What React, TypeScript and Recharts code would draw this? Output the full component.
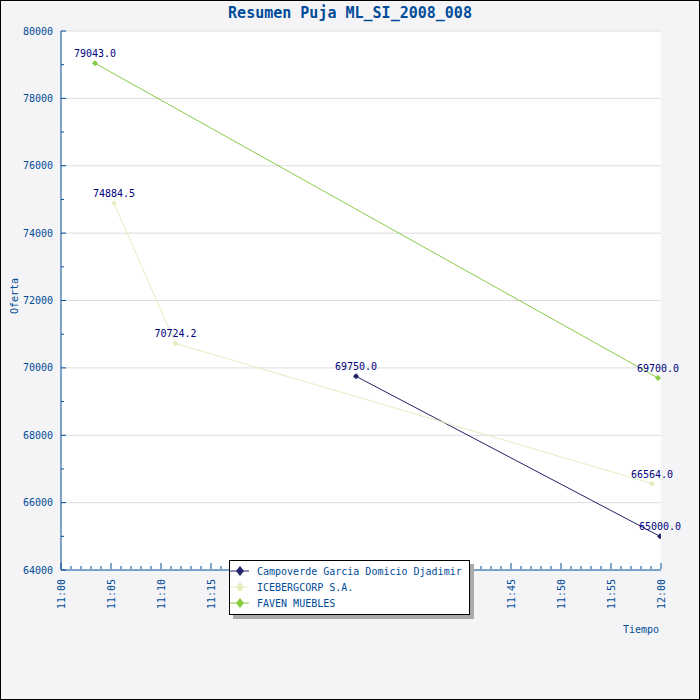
import { LineChart, Line, XAxis, YAxis, CartesianGrid, Legend, LabelList, Customized } from 'recharts'

// Pujas por oferente: minutos desde las 11:00 y oferta
const campoverdeMinutes = [29.5, 59.9]
const campoverdeBids = [69750.0, 65000.0]
const icebergMinutes = [5.3, 11.45, 59.1]
const icebergBids = [74884.5, 70724.2, 66564.0]
const favenMinutes = [3.4, 59.7]
const favenBids = [79043.0, 69700.0]

const seriesNames = ['Campoverde Garcia Domicio Djadimir', 'ICEBERGCORP S.A.', 'FAVEN MUEBLES']
const seriesColors = ['#222266', '#e4edbf', '#88cc44']

const yTicks = [64000, 65000, 66000, 67000, 68000, 69000, 70000, 71000, 72000, 73000, 74000, 75000, 76000, 77000, 78000, 79000, 80000]
const yGridValues = [66000, 68000, 70000, 72000, 74000, 76000, 78000, 80000]
const xTicks = Array.from({ length: 61 }, (_, i) => i)

const AXIS = '#004c99'
const FONT = '"DejaVu Sans Mono", monospace'
const TICK_MARGIN = 8

const toRows = (minutes: number[], bids: number[]) => minutes.map((t, i) => ({ t, bid: bids[i] }))
const seriesData = [
  toRows(campoverdeMinutes, campoverdeBids),
  toRows(icebergMinutes, icebergBids),
  toRows(favenMinutes, favenBids),
]

const timeLabel = (m: number) => (m >= 60 ? '12:00' : `11:${String(m).padStart(2, '0')}`)

function YTick(props: any) {
  const { x, y, payload } = props
  const ax = x + TICK_MARGIN
  const major = payload.value % 2000 === 0
  return (
    <g>
      <line x1={ax} x2={ax + (major ? 5 : 3)} y1={y} y2={y} stroke={AXIS} />
      {major && (
        <text x={x} y={y} dy="0.35em" textAnchor="end" fill={AXIS} fontSize={10} fontFamily={FONT}>
          {payload.value}
        </text>
      )}
    </g>
  )
}

function XTick(props: any) {
  const { x, y, payload } = props
  const ay = y - TICK_MARGIN - 1
  const major = payload.value % 5 === 0
  return (
    <g>
      <line x1={x} x2={x} y1={ay} y2={ay - (major ? 6 : 3)} stroke={AXIS} />
      {major && (
        <text
          x={x}
          y={ay + 10}
          dy="0.35em"
          textAnchor="end"
          transform={`rotate(-90, ${x}, ${ay + 10})`}
          fill={AXIS}
          fontSize={10}
          fontFamily={FONT}
        >
          {timeLabel(payload.value)}
        </text>
      )}
    </g>
  )
}

const diamond = (color: string) => (p: any) => {
  const { cx, cy } = p
  if (cx == null || cy == null) return <g key={p.index} />
  return (
    <polygon
      key={p.index}
      points={`${cx},${cy - 3} ${cx + 3},${cy} ${cx},${cy + 3} ${cx - 3},${cy}`}
      fill={color}
    />
  )
}

function LegendBox() {
  return (
    <div
      style={{
        width: 239,
        height: 51,
        border: '1px solid #000',
        background: '#fff',
        boxShadow: '4px 4px 0 #aaaaaa',
        paddingTop: 2,
        fontFamily: FONT,
        fontSize: 10,
        color: AXIS,
      }}
    >
      {seriesNames.map((name, i) => (
        <div key={name} style={{ display: 'flex', alignItems: 'center', height: 16 }}>
          <svg width={27} height={16} style={{ flex: 'none' }}>
            <line x1={0} x2={19} y1={8} y2={8} stroke={seriesColors[i]} />
            <polygon points="10,3 14,8 10,13 6,8" fill={seriesColors[i]} />
          </svg>
          <span style={{ whiteSpace: 'nowrap' }}>{name}</span>
        </div>
      ))}
    </div>
  )
}

function Texts() {
  return (
    <g fontFamily={FONT}>
      <text x={349} y={16.5} textAnchor="middle" fill={AXIS} fontSize={15} fontWeight="bold">
        Resumen Puja ML_SI_2008_008
      </text>
      <text x={13.5} y={295} dy="0.35em" textAnchor="middle" fill={AXIS} fontSize={10} transform="rotate(-90, 13.5, 295)">
        Oferta
      </text>
      <text x={658} y={632} textAnchor="end" fill={AXIS} fontSize={10}>
        Tiempo
      </text>
    </g>
  )
}

export default function App() {
  return (
    <div
      style={{
        position: 'fixed',
        left: 0,
        top: 0,
        width: 700,
        height: 700,
        boxSizing: 'border-box',
        border: '1px solid #000',
        background: '#f4f4f6',
      }}
    >
      <LineChart width={698} height={698} margin={{ top: 30, right: 38, left: 0, bottom: 79 }}>
        <CartesianGrid vertical={false} horizontalValues={yGridValues} stroke="#dddddd" fill="#ffffff" />
        <XAxis
          dataKey="t"
          type="number"
          domain={[0, 60]}
          ticks={xTicks}
          interval={0}
          height={50}
          tickSize={0}
          tickMargin={TICK_MARGIN}
          tick={<XTick />}
          axisLine={{ stroke: AXIS }}
          allowDataOverflow
        />
        <YAxis
          type="number"
          domain={[64000, 80000]}
          ticks={yTicks}
          interval={0}
          width={60}
          tickSize={0}
          tickMargin={TICK_MARGIN}
          tick={<YTick />}
          axisLine={{ stroke: AXIS }}
          allowDataOverflow
        />
        {seriesData.map((rows, i) => (
          <Line
            key={seriesNames[i]}
            name={seriesNames[i]}
            data={rows}
            dataKey="bid"
            type="linear"
            stroke={seriesColors[i]}
            strokeWidth={1}
            dot={diamond(seriesColors[i])}
            activeDot={false}
            isAnimationActive={false}
          >
            <LabelList
              dataKey="bid"
              position="top"
              offset={6}
              formatter={(v: any) => Number(v).toFixed(1)}
              fill="#000080"
              fontSize={10}
              fontFamily={FONT}
            />
          </Line>
        ))}
        <Legend
          layout="vertical"
          align="center"
          verticalAlign="middle"
          content={<LegendBox />}
          wrapperStyle={{ left: 228, top: 559, width: 245, height: 58 }}
        />
        <Customized component={<Texts />} />
      </LineChart>
    </div>
  )
}
